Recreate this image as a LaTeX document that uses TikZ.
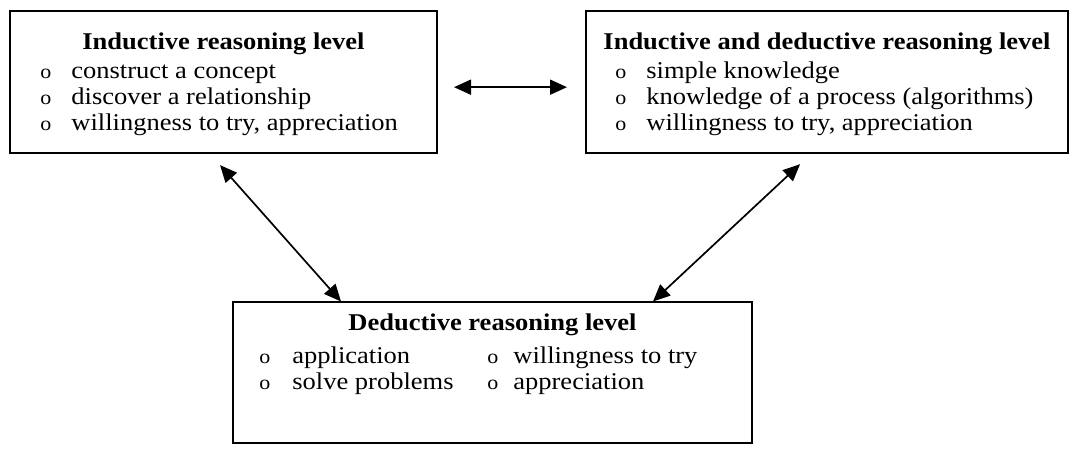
\documentclass[tikz,border=0pt]{standalone}
\usepackage{fontspec}
\setmainfont{Liberation Serif}
\usetikzlibrary{arrows.meta}

\newcommand{\bul}{{\fontsize{11}{11}\selectfont o}}
\newcommand{\itm}[2][15.5pt]{\makebox[#1][l]{\bul}#2}

\tikzset{
  panel/.style={draw, line width=1pt, inner sep=0pt},
  heading/.style={anchor=base, inner sep=0pt, font=\fontsize{13.25}{15}\selectfont\bfseries},
  entry/.style={anchor=base west, inner sep=0pt, font=\fontsize{13.25}{15}\selectfont},
  link/.style={<->, >={Triangle[length=8.5pt,width=7.5pt]}, line width=0.85pt}
}

\begin{document}
\begin{tikzpicture}[x=0.5pt, y=-0.5pt, yscale=0.908, every node/.append style={transform shape}]
        \useasboundingbox (0,0) rectangle (1070,502);

        % Inductive level
        \node[panel, minimum width=213.5pt, minimum height=78.5pt] (ind) at (223.5,90.5) {};
        \node[heading] (indT) at (223.5,54) {Inductive reasoning level};
        \node[entry] (ind1) at (40,86) {\itm{construct a concept}};
        \node[entry] (ind2) at (40,115) {\itm{discover a relationship}};
        \node[entry] (ind3) at (40,144) {\itm{willingness to try, appreciation}};

        % Inductive and deductive level
        \node[panel, minimum width=241pt, minimum height=78.5pt] (both) at (827,90.5) {};
        \node[heading] (bothT) at (827,54) {Inductive and deductive reasoning level};
        \node[entry] (both1) at (615,86) {\itm{simple knowledge}};
        \node[entry] (both2) at (615,115) {\itm{knowledge of a process (algorithms)}};
        \node[entry] (both3) at (615,144) {\itm{willingness to try, appreciation}};

        % Deductive level
        \node[panel, minimum width=259.5pt, minimum height=77.5pt] (ded) at (492.5,410.5) {};
        \node[heading] (dedT) at (492.5,364) {Deductive reasoning level};
        \node[entry] (ded1) at (259,400) {\itm[16.5pt]{application}};
        \node[entry] (ded2) at (259,429) {\itm[16.5pt]{solve problems}};
        \node[entry] (ded3) at (487,400) {\itm[13pt]{willingness to try}};
        \node[entry] (ded4) at (487,429) {\itm[13pt]{appreciation}};

        % Links between levels
        \draw[link, shorten <=8pt, shorten >=9pt] ([yshift=-2.75pt]ind.east) -- ([yshift=-2.75pt]both.west);
        \draw[link, shorten <=7.2pt] ([xshift=-6.5pt]ind.south) -- ([xshift=-75.75pt]ded.north);
        \draw[link, shorten <=7.2pt] ([xshift=-8.2pt]both.south) -- ([xshift=80.25pt]ded.north);
    \end{tikzpicture}
\end{document}
